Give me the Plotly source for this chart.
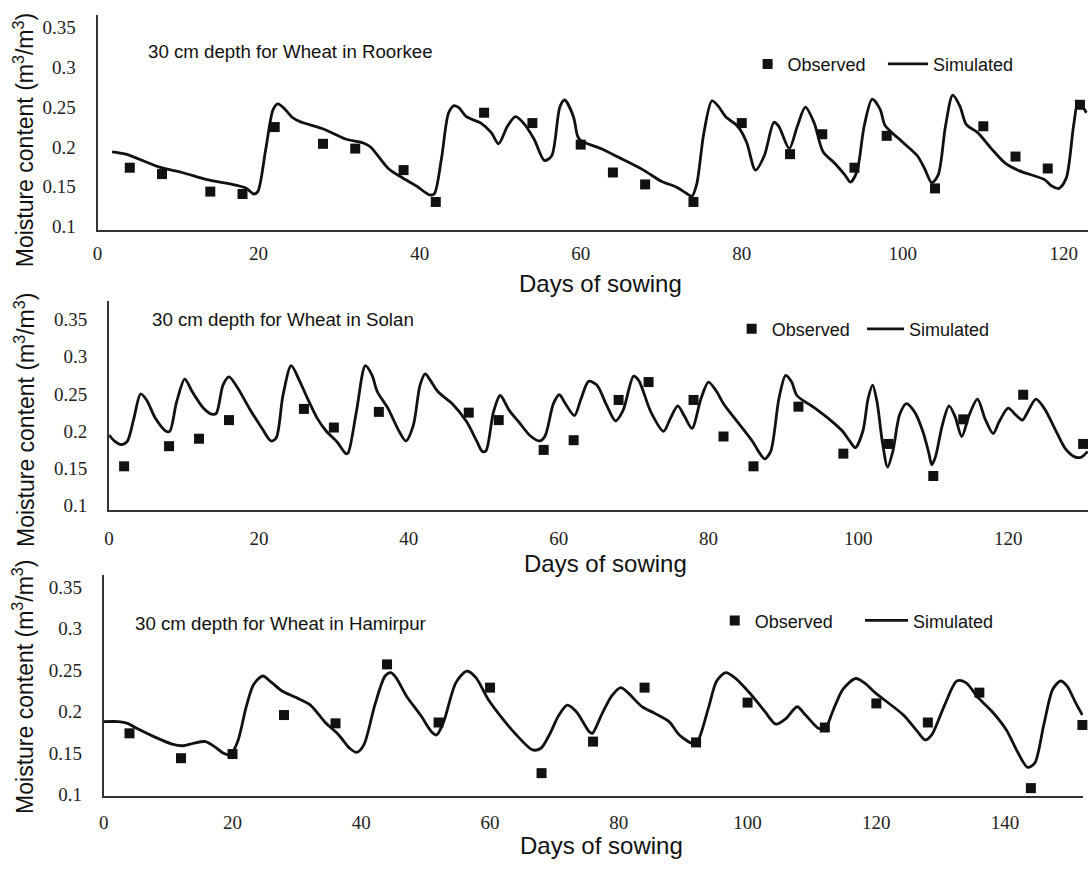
import plotly.graph_objects as go

# ---------------- Roorkee ----------------
roorkee_obs_day = [4, 8, 14, 18, 22, 28, 32, 38, 42, 48, 54, 60, 64, 68, 74, 80, 86, 90, 94, 98, 104, 110, 114, 118, 122]
roorkee_obs_val = [0.174, 0.166, 0.144, 0.141, 0.225, 0.204, 0.198, 0.171, 0.131, 0.243, 0.230, 0.203, 0.168, 0.153, 0.131,
                   0.230, 0.191, 0.216, 0.174, 0.214, 0.148, 0.226, 0.188, 0.173, 0.253]
roorkee_sim_day = [1.8, 3.5, 7.9, 10.5, 13.6, 17.2, 18.5, 19.4, 19.9, 20.9, 21.8, 22.4, 23.3, 24.2, 25.1, 28.2, 30.8, 33.0,
                   33.9, 36.1, 37.9, 39.6, 41.2, 41.8, 42.7, 43.6, 44.3, 44.9, 45.8, 47.6, 48.9, 49.8, 50.9, 51.9, 52.9,
                   54.2, 55.5, 56.4, 57.4, 58.0, 59.1, 59.6, 60.0, 62.5, 64.7, 67.8, 70.0, 71.8, 73.1, 73.8, 74.4, 75.3,
                   76.3, 77.1, 78.0, 79.5, 80.6, 81.7, 82.8, 84.0, 84.6, 85.9, 86.9, 87.9, 89.0, 90.1, 91.6, 92.8, 93.5,
                   94.3, 95.2, 96.2, 97.2, 97.8, 100.0, 101.8, 102.7, 103.6, 104.4, 105.3, 106.2, 107.1, 107.9, 109.3,
                   111.0, 112.8, 114.5, 117.6, 118.5, 119.4, 120.3, 121.2, 121.8, 122.8]
roorkee_sim_val = [0.194, 0.191, 0.174, 0.168, 0.159, 0.152, 0.148, 0.141, 0.144, 0.198, 0.247, 0.254, 0.247, 0.237, 0.232,
                   0.222, 0.210, 0.205, 0.200, 0.173, 0.161, 0.151, 0.140, 0.141, 0.185, 0.243, 0.252, 0.249, 0.238, 0.230,
                   0.218, 0.204, 0.226, 0.238, 0.230, 0.210, 0.183, 0.189, 0.250, 0.259, 0.238, 0.214, 0.208, 0.198, 0.187,
                   0.171, 0.157, 0.150, 0.142, 0.138, 0.153, 0.218, 0.258, 0.251, 0.238, 0.226, 0.206, 0.171, 0.189, 0.231,
                   0.226, 0.198, 0.226, 0.250, 0.230, 0.194, 0.179, 0.165, 0.156, 0.169, 0.226, 0.260, 0.247, 0.227, 0.206,
                   0.189, 0.173, 0.155, 0.165, 0.226, 0.265, 0.251, 0.228, 0.218, 0.198, 0.179, 0.170, 0.159, 0.151, 0.148,
                   0.161, 0.226, 0.257, 0.243]

# ---------------- Solan ----------------
solan_obs_day = [2, 8, 12, 16, 26, 30, 36, 48, 52, 58, 62, 68, 72, 78, 82, 86, 92, 98, 104, 110, 114, 122, 130]
solan_obs_val = [0.153, 0.180, 0.190, 0.215, 0.230, 0.205, 0.226, 0.225, 0.215, 0.175, 0.188, 0.242, 0.266, 0.242, 0.193,
                 0.153, 0.233, 0.170, 0.183, 0.140, 0.216, 0.249, 0.183]
solan_sim_day = [0.0, 0.7, 1.6, 2.4, 3.3, 4.2, 5.0, 6.2, 7.6, 8.1, 9.0, 10.1, 11.1, 12.6, 13.7, 14.3, 15.2, 16.0, 17.1,
                 18.7, 20.4, 21.6, 22.3, 23.2, 24.3, 25.4, 26.3, 27.8, 29.0, 30.4, 31.6, 31.9, 33.0, 34.2, 35.1, 35.8,
                 37.2, 38.7, 39.6, 40.6, 41.5, 42.2, 42.9, 43.9, 45.8, 47.7, 49.1, 49.8, 50.3, 51.3, 52.2, 53.4, 54.8,
                 56.2, 57.5, 58.2, 59.3, 60.1, 60.9, 62.1, 63.0, 64.0, 65.1, 66.4, 67.6, 68.6, 70.0, 70.7, 72.3, 74.0,
                 74.9, 75.9, 76.8, 77.8, 79.0, 80.0, 81.1, 82.0, 84.0, 85.9, 86.8, 87.5, 88.3, 89.4, 90.3, 91.1, 91.8,
                 94.2, 96.5, 97.9, 98.9, 99.6, 100.6, 101.3, 101.9, 102.5, 103.2, 103.9, 104.6, 105.5, 106.4, 107.5,
                 108.6, 109.4, 109.8, 110.3, 111.2, 112.1, 112.9, 113.8, 114.8, 115.9, 116.9, 118.0, 118.8, 120.0,
                 121.0, 121.9, 122.6, 123.7, 124.8, 126.2, 127.6, 128.8, 129.7, 130.6]
solan_sim_val = [0.195, 0.187, 0.182, 0.186, 0.217, 0.250, 0.242, 0.217, 0.200, 0.200, 0.239, 0.270, 0.253, 0.231, 0.223,
                 0.224, 0.262, 0.273, 0.259, 0.231, 0.204, 0.187, 0.191, 0.248, 0.288, 0.268, 0.248, 0.217, 0.200, 0.186,
                 0.170, 0.171, 0.226, 0.288, 0.275, 0.253, 0.231, 0.200, 0.187, 0.208, 0.262, 0.277, 0.268, 0.253, 0.237,
                 0.213, 0.186, 0.173, 0.174, 0.226, 0.248, 0.228, 0.211, 0.194, 0.187, 0.194, 0.237, 0.249, 0.237, 0.221,
                 0.244, 0.267, 0.262, 0.235, 0.214, 0.228, 0.274, 0.268, 0.226, 0.200, 0.217, 0.234, 0.220, 0.204, 0.244,
                 0.266, 0.253, 0.237, 0.211, 0.186, 0.171, 0.163, 0.173, 0.244, 0.275, 0.266, 0.248, 0.231, 0.213, 0.200,
                 0.186, 0.178, 0.200, 0.244, 0.262, 0.239, 0.186, 0.152, 0.173, 0.222, 0.237, 0.226, 0.200, 0.171, 0.155,
                 0.166, 0.208, 0.234, 0.220, 0.193, 0.222, 0.243, 0.217, 0.197, 0.213, 0.231, 0.222, 0.215, 0.226, 0.243,
                 0.231, 0.204, 0.177, 0.166, 0.165, 0.173]

# ---------------- Hamirpur ----------------
hamirpur_obs_day = [4, 12, 20, 28, 36, 44, 52, 60, 68, 76, 84, 92, 100, 112, 120, 128, 136, 144, 152]
hamirpur_obs_val = [0.174, 0.144, 0.149, 0.196, 0.186, 0.257, 0.187, 0.229, 0.126, 0.164, 0.229, 0.163, 0.211, 0.181,
                    0.210, 0.187, 0.223, 0.108, 0.184]
hamirpur_sim_day = [0.0, 2.3, 3.7, 5.1, 7.8, 10.6, 12.3, 13.9, 15.8, 17.2, 18.6, 19.7, 20.8, 22.2, 23.3, 24.7, 26.1, 27.7,
                    29.9, 32.1, 34.3, 36.5, 38.2, 39.3, 40.4, 42.1, 43.7, 44.6, 45.4, 47.0, 49.2, 50.9, 51.7, 52.8, 54.7,
                    56.4, 57.8, 59.7, 61.9, 64.1, 66.6, 67.9, 69.2, 70.7, 72.0, 73.4, 75.4, 75.9, 77.3, 78.9, 80.3, 81.4,
                    83.6, 85.6, 87.8, 89.4, 91.4, 92.2, 93.9, 95.2, 96.6, 98.0, 100.5, 102.7, 104.4, 106.0, 107.7, 109.0,
                    111.0, 112.0, 113.2, 114.8, 116.8, 118.1, 119.8, 124.2, 126.4, 127.6, 128.6, 130.6, 132.5, 133.9,
                    135.8, 138.0, 140.2, 141.9, 143.5, 144.6, 146.0, 147.4, 148.6, 149.6, 151.0, 152.0]
hamirpur_sim_val = [0.188, 0.188, 0.186, 0.180, 0.170, 0.161, 0.159, 0.162, 0.164, 0.158, 0.150, 0.148, 0.164, 0.208,
                    0.233, 0.243, 0.235, 0.225, 0.217, 0.208, 0.188, 0.172, 0.156, 0.151, 0.160, 0.208, 0.243, 0.247,
                    0.241, 0.219, 0.196, 0.176, 0.172, 0.188, 0.235, 0.249, 0.241, 0.215, 0.192, 0.172, 0.154, 0.156,
                    0.172, 0.196, 0.208, 0.200, 0.176, 0.174, 0.196, 0.219, 0.229, 0.223, 0.206, 0.198, 0.188, 0.172,
                    0.162, 0.164, 0.204, 0.237, 0.247, 0.241, 0.221, 0.200, 0.185, 0.192, 0.206, 0.196, 0.180, 0.179,
                    0.200, 0.227, 0.240, 0.235, 0.223, 0.196, 0.176, 0.166, 0.172, 0.208, 0.237, 0.235, 0.217, 0.200,
                    0.178, 0.152, 0.133, 0.138, 0.184, 0.227, 0.237, 0.231, 0.210, 0.196]

panel_titles = ["30 cm depth for Wheat in Roorkee", "30 cm depth for Wheat in Solan", "30 cm depth for Wheat in Hamirpur"]
x_title = "Days of sowing"
y_title = "Moisture content (m<sup>3</sup>/m<sup>3</sup>)"
y_ticks = [0.1, 0.15, 0.2, 0.25, 0.3, 0.35]

W, H = 1088, 869
INK = "#111111"
AXIS = "#333333"
SANS = "Liberation Sans"
SERIF = "Liberation Serif"


def px_x(p):
    return p / W


def px_y(p):
    return 1 - p / H


# per-panel placement in pixels plus axis ranges
panels = [
    dict(obs=(roorkee_obs_day, roorkee_obs_val), sim=(roorkee_sim_day, roorkee_sim_val),
         left=93, right=1088, top=15, bottom=233, xr=[0, 123], yr=[0.0954, 0.3659], xt=list(range(0, 121, 20)),
         xstand=5, title=(142, 52), xlab=(598, 287), ylab=(19, 142),
         leg_obs=746, leg_sim=882, leg_y=65, sim_item=40),
    dict(obs=(solan_obs_day, solan_obs_val), sim=(solan_sim_day, solan_sim_val),
         left=104.6, right=1088, top=305, bottom=516, xr=[0, 130.65], yr=[0.0943, 0.3741], xt=list(range(0, 121, 20)),
         xstand=10, title=(146, 323), xlab=(603, 570), ylab=(20, 425),
         leg_obs=730, leg_sim=861, leg_y=333, sim_item=37),
    dict(obs=(hamirpur_obs_day, hamirpur_obs_val), sim=(hamirpur_sim_day, hamirpur_sim_val),
         left=99.2, right=1083, top=582, bottom=805, xr=[0, 152.1], yr=[0.0988, 0.3643], xt=list(range(0, 141, 20)),
         xstand=8, title=(129, 631), xlab=(599, 855), ylab=(18, 695),
         leg_obs=713, leg_sim=859, leg_y=628, sim_item=43),
]

fig = go.Figure()
annotations = []
layout_axes = {}
legend_cfg = {}

for i, p in enumerate(panels):
    n = i + 1
    xa = "x" if n == 1 else f"x{n}"
    ya = "y" if n == 1 else f"y{n}"
    lg_obs = "legend" if n == 1 else f"legend{2 * n - 1}"
    lg_sim = f"legend{2 * n}"

    fig.add_trace(go.Scatter(
        x=p["sim"][0], y=p["sim"][1], mode="lines", name="Simulated",
        line=dict(color=INK, width=2.8, shape="spline", smoothing=0.8),
        xaxis=xa, yaxis=ya, legend=lg_sim,
    ))
    fig.add_trace(go.Scatter(
        x=p["obs"][0], y=p["obs"][1], mode="markers", name="Observed",
        marker=dict(symbol="square", size=10, color=INK),
        xaxis=xa, yaxis=ya, legend=lg_obs, cliponaxis=False,
    ))

    layout_axes["xaxis" if n == 1 else f"xaxis{n}"] = dict(
        domain=[px_x(p["left"]), px_x(p["right"])], range=p["xr"], anchor=ya,
        showline=True, linecolor=AXIS, linewidth=2, showgrid=False, zeroline=False,
        ticks="", tickvals=p["xt"], ticklabelstandoff=p["xstand"],
        tickfont=dict(family=SERIF, size=19, color="#222222"),
    )
    layout_axes["yaxis" if n == 1 else f"yaxis{n}"] = dict(
        domain=[px_y(p["bottom"]), px_y(p["top"])], range=p["yr"], anchor=xa,
        showline=True, linecolor=AXIS, linewidth=2, showgrid=False, zeroline=False,
        ticks="", tickvals=y_ticks, ticklabelstandoff=16,
        tickfont=dict(family=SERIF, size=19, color="#222222"),
    )

    annotations.append(dict(
        text=panel_titles[i], xref="paper", yref="paper", x=px_x(p["title"][0]), y=px_y(p["title"][1]),
        xanchor="left", yanchor="middle", showarrow=False, font=dict(family=SANS, size=18.7, color=INK)))
    annotations.append(dict(
        text=x_title, xref="paper", yref="paper", x=px_x(p["xlab"][0]), y=px_y(p["xlab"][1]),
        xanchor="center", yanchor="middle", showarrow=False, font=dict(family=SANS, size=24, color=INK)))
    annotations.append(dict(
        text=y_title, xref="paper", yref="paper", x=px_x(p["ylab"][0]), y=px_y(p["ylab"][1]),
        xanchor="center", yanchor="middle", textangle=-90, showarrow=False,
        font=dict(family=SANS, size=23, color=INK)))

    legend_cfg[lg_obs] = dict(
        x=px_x(p["leg_obs"]), y=px_y(p["leg_y"]), xanchor="left", yanchor="middle",
        orientation="h", bgcolor="rgba(0,0,0,0)", font=dict(family=SANS, size=18, color=INK))
    legend_cfg[lg_sim] = dict(
        x=px_x(p["leg_sim"]), y=px_y(p["leg_y"]), xanchor="left", yanchor="middle",
        orientation="h", itemwidth=p["sim_item"], bgcolor="rgba(0,0,0,0)",
        font=dict(family=SANS, size=18, color=INK))

fig.update_layout(
    width=W, height=H, margin=dict(l=0, r=0, t=0, b=0),
    paper_bgcolor="white", plot_bgcolor="white",
    showlegend=True, annotations=annotations,
    **layout_axes, **legend_cfg,
)

fig.write_html("out.html")
